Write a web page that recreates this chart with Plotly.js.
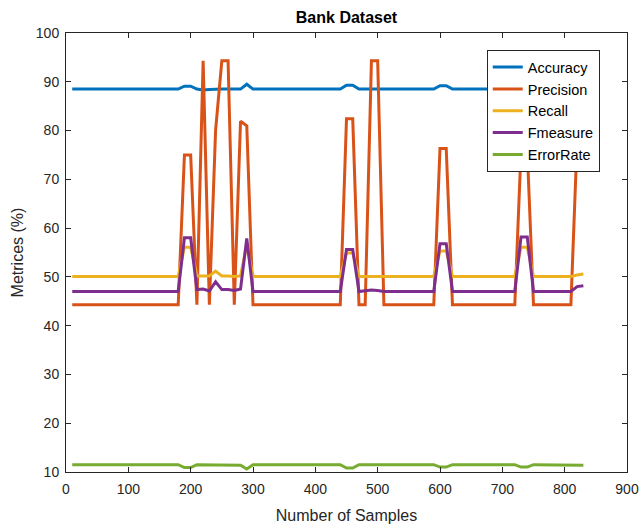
<!DOCTYPE html>
<html>
<head>
<meta charset="utf-8">
<script src="https://cdn.plot.ly/plotly-3.0.1.min.js"></script>
<style>html,body{margin:0;padding:0;background:#fff;}#chart{width:643px;height:527px;}</style>
</head>
<body>
<div id="chart"></div>
<script>
const samples = [10,20,30,40,50,60,70,80,90,100,110,120,130,140,150,160,170,180,190,200,210,220,230,240,250,260,270,280,290,300,310,320,330,340,350,360,370,380,390,400,410,420,430,440,450,460,470,480,490,500,510,520,530,540,550,560,570,580,590,600,610,620,630,640,650,660,670,680,690,700,710,720,730,740,750,760,770,780,790,800,810,820,830];

const accuracy = [88.5,88.5,88.5,88.5,88.5,88.5,88.5,88.5,88.5,88.5,88.5,88.5,88.5,88.5,88.5,88.5,88.5,88.5,89.1,89.1,88.5,88.3,88.4,88.5,88.5,88.5,88.5,88.5,89.5,88.5,88.5,88.5,88.5,88.5,88.5,88.5,88.5,88.5,88.5,88.5,88.5,88.5,88.5,88.5,89.3,89.3,88.5,88.5,88.5,88.5,88.5,88.5,88.5,88.5,88.5,88.5,88.5,88.5,88.5,89.2,89.2,88.5,88.5,88.5,88.5,88.5,88.5,88.5,88.5,88.5,88.5,88.5,89.2,89.2,88.5,88.5,88.5,88.5,88.5,88.5,88.5,88.5,88.5];

const precision = [44.3,44.3,44.3,44.3,44.3,44.3,44.3,44.3,44.3,44.3,44.3,44.3,44.3,44.3,44.3,44.3,44.3,44.3,75.0,75.0,44.3,94.3,44.3,80.1,94.3,94.3,44.3,81.9,81.0,44.3,44.3,44.3,44.3,44.3,44.3,44.3,44.3,44.3,44.3,44.3,44.3,44.3,44.3,44.3,82.4,82.4,44.3,44.3,94.3,94.3,44.3,44.3,44.3,44.3,44.3,44.3,44.3,44.3,44.3,76.3,76.3,44.3,44.3,44.3,44.3,44.3,44.3,44.3,44.3,44.3,44.3,44.3,76.0,76.0,44.3,44.3,44.3,44.3,44.3,44.3,44.3,78.0,78.0];

const recall = [50.1,50.1,50.1,50.1,50.1,50.1,50.1,50.1,50.1,50.1,50.1,50.1,50.1,50.1,50.1,50.1,50.1,50.1,56.1,56.1,50.2,50.2,50.2,51.2,50.2,50.2,50.1,50.2,56.5,50.1,50.1,50.1,50.1,50.1,50.1,50.1,50.1,50.1,50.1,50.1,50.1,50.1,50.1,50.1,54.9,54.9,50.1,50.1,50.1,50.1,50.1,50.1,50.1,50.1,50.1,50.1,50.1,50.1,50.1,55.3,55.3,50.1,50.1,50.1,50.1,50.1,50.1,50.1,50.1,50.1,50.1,50.1,56.1,56.1,50.1,50.1,50.1,50.1,50.1,50.1,50.1,50.4,50.6];

const fmeasure = [47.0,47.0,47.0,47.0,47.0,47.0,47.0,47.0,47.0,47.0,47.0,47.0,47.0,47.0,47.0,47.0,47.0,47.0,58.0,58.0,47.4,47.5,47.1,49.0,47.4,47.4,47.2,47.5,57.9,47.0,47.0,47.0,47.0,47.0,47.0,47.0,47.0,47.0,47.0,47.0,47.0,47.0,47.0,47.0,55.6,55.6,47.0,47.2,47.3,47.2,47.0,47.0,47.0,47.0,47.0,47.0,47.0,47.0,47.0,56.8,56.8,47.0,47.0,47.0,47.0,47.0,47.0,47.0,47.0,47.0,47.0,47.0,58.2,58.2,47.0,47.0,47.0,47.0,47.0,47.0,47.0,48.0,48.2];

const errorRate = [11.5,11.5,11.5,11.5,11.5,11.5,11.5,11.5,11.5,11.5,11.5,11.5,11.5,11.5,11.5,11.5,11.5,11.5,10.9,10.9,11.5,11.5,11.4,11.5,11.5,11.5,11.5,11.4,10.6,11.5,11.5,11.5,11.5,11.5,11.5,11.5,11.5,11.5,11.5,11.5,11.5,11.5,11.5,11.5,10.8,10.8,11.5,11.5,11.5,11.5,11.5,11.5,11.5,11.5,11.5,11.5,11.5,11.5,11.5,11.0,11.0,11.5,11.5,11.5,11.5,11.5,11.5,11.5,11.5,11.5,11.5,11.5,11.0,11.0,11.5,11.5,11.5,11.5,11.5,11.5,11.5,11.5,11.4];

const seriesNames = ["Accuracy","Precision","Recall","Fmeasure","ErrorRate"];
const seriesData = [accuracy, precision, recall, fmeasure, errorRate];
const seriesColors = ["#0072BD","#D95319","#EDB120","#7E2F8E","#77AC30"];

const xTicks = [0,100,200,300,400,500,600,700,800,900];
const yTicks = [10,20,30,40,50,60,70,80,90,100];

const traces = seriesNames.map((n,i)=>({
  x: samples, y: seriesData[i], name: n, type: 'scatter', mode: 'lines',
  line: {color: seriesColors[i], width: 3}
}));

const FONT = 'Liberation Sans, Arial, sans-serif';
const axisCommon = {
  showline: true, mirror: 'ticks', linecolor: '#262626', linewidth: 1,
  ticks: 'inside', ticklen: 5, tickcolor: '#262626', tickwidth: 1,
  showgrid: false, zeroline: false,
  tickfont: {family: FONT, size: 14, color: '#262626'}
};

const layout = {
  width: 643, height: 527,
  margin: {l: 66, r: 16, t: 33, b: 55},
  paper_bgcolor: '#fff', plot_bgcolor: '#fff',
  title: {text: '<b>Bank Dataset</b>', x: 0.5, xref: 'paper', y: 1 - 17/527, yref: 'container', yanchor: 'middle',
    font: {family: FONT, size: 16, color: '#000'}},
  xaxis: Object.assign({}, axisCommon, {
    range: [0, 900], tickvals: xTicks, ticktext: xTicks.map(String),
    ticklabelstandoff: 4,
    title: {text: 'Number of Samples', standoff: 14, font: {family: FONT, size: 16, color: '#262626'}}
  }),
  yaxis: Object.assign({}, axisCommon, {
    range: [10, 100], tickvals: yTicks, ticktext: yTicks.map(String),
    ticklabelstandoff: 3,
    title: {text: 'Metrices (%)', standoff: 8, font: {family: FONT, size: 16, color: '#262626'}}
  }),
  legend: {
    x: 0.75, y: 0.961, xanchor: 'left', yanchor: 'top',
    bgcolor: '#fff', bordercolor: '#262626', borderwidth: 1,
    font: {family: FONT, size: 14.5, color: '#000'},
    tracegroupgap: 0,
    entrywidth: 80
  },
  showlegend: true
};

Plotly.newPlot('chart', traces, layout, {displayModeBar: false, staticPlot: true});
</script>
</body>
</html>
